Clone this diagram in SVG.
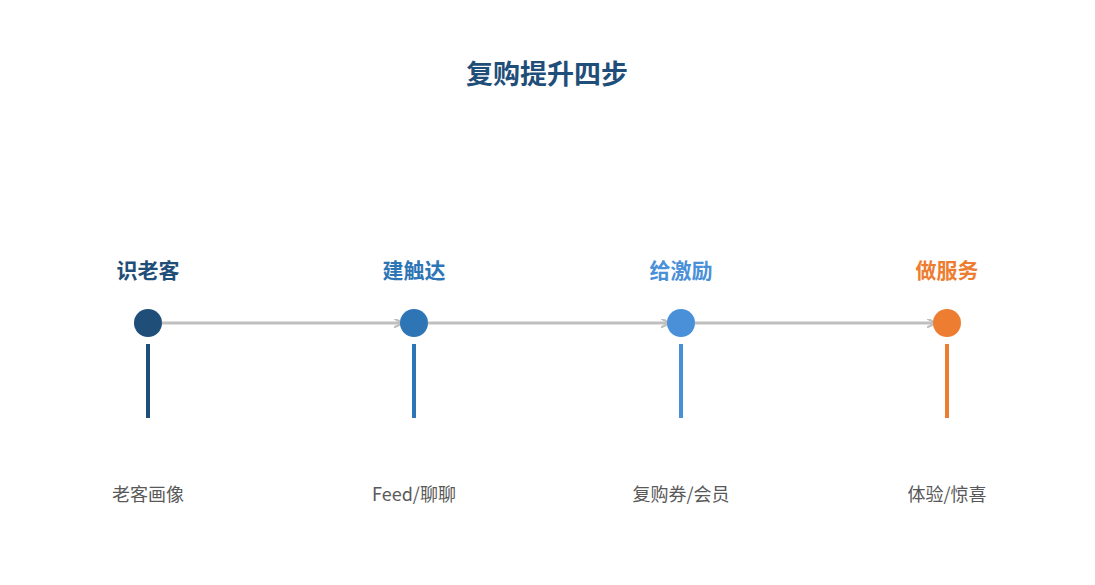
<svg xmlns="http://www.w3.org/2000/svg" width="1095" height="585" viewBox="0 0 1095 585">
<defs>
<style>
text{font-family:"Noto Sans CJK SC","Noto Sans",sans-serif;text-anchor:middle}
.t{font-size:27px;font-weight:bold;fill:#1f4e79}
.h{font-size:21px;font-weight:bold}
.d{font-size:18px;fill:#595959}
.c{stroke:#bfbfbf;stroke-width:3;fill:none}
</style>
<marker id="a" viewBox="0 0 10 10" refX="9" refY="5" markerWidth="3" markerHeight="3" orient="auto"><path d="M0,0L10,5L0,10" fill="none" stroke="#bfbfbf" stroke-width="2.5"/></marker>
</defs>
<rect width="1095" height="585" fill="#fff"/>
<text class="t" x="547" y="84">复购提升四步</text>
<g id="connectors">
<line class="c" x1="162" y1="323" x2="402" y2="323" marker-end="url(#a)"/>
<line class="c" x1="428" y1="323" x2="669" y2="323" marker-end="url(#a)"/>
<line class="c" x1="695" y1="323" x2="935" y2="323" marker-end="url(#a)"/>
</g>
<g id="n1"><text class="h" x="148" y="278" fill="#1f4e79">识老客</text><circle cx="148" cy="323" r="14" fill="#1f4e79"/><rect x="146" y="344" width="4" height="74" fill="#1f4e79"/><text class="d" x="148" y="501">老客画像</text></g>
<g id="n2"><text class="h" x="414" y="278" fill="#2e75b6">建触达</text><circle cx="414" cy="323" r="14" fill="#2e75b6"/><rect x="412" y="344" width="4" height="74" fill="#2e75b6"/><text class="d" x="414" y="501">Feed/聊聊</text></g>
<g id="n3"><text class="h" x="681" y="278" fill="#4a90d9">给激励</text><circle cx="681" cy="323" r="14" fill="#4a90d9"/><rect x="679" y="344" width="4" height="74" fill="#4a90d9"/><text class="d" x="681" y="501">复购券/会员</text></g>
<g id="n4"><text class="h" x="947" y="278" fill="#ed7d31">做服务</text><circle cx="947" cy="323" r="14" fill="#ed7d31"/><rect x="945" y="344" width="4" height="74" fill="#ed7d31"/><text class="d" x="947" y="501">体验/惊喜</text></g>
</svg>
